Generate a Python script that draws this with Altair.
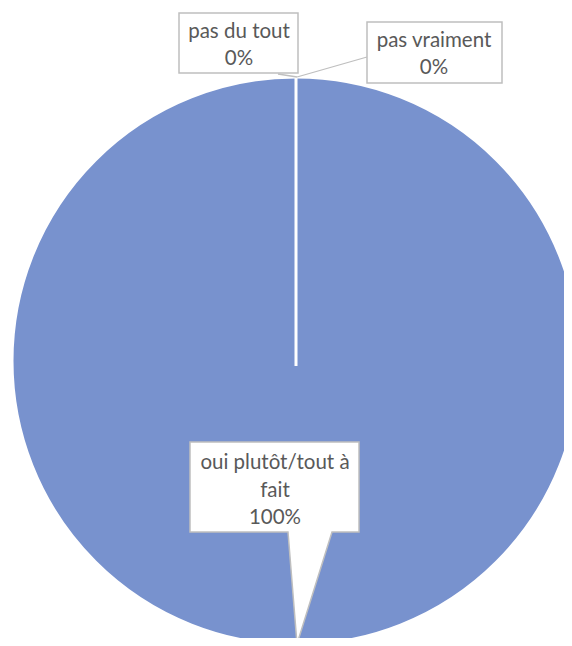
import altair as alt
import pandas as pd

categories = ["pas du tout", "pas vraiment", "oui plutôt/tout à fait"]
values = [0, 0, 100]
label_lines = [["pas du tout"], ["pas vraiment"], ["oui plutôt/tout à", "fait"]]

df = pd.DataFrame({"categorie": categories, "valeur": values, "ordre": list(range(len(categories)))})

W, H = 556, 630
cx, cy, R = 288, 353, 284
BLUE = "#7892CE"
TXT = "#595959"
BORDER = "#BFBFBF"
FONT = "Lato"
FS = 20.5
LH = 27.5

one = pd.DataFrame({"k": [0]})

pie = alt.Chart(df).mark_arc(outerRadius=R, stroke="white", strokeWidth=3).encode(
    theta=alt.Theta("valeur:Q", stack=True),
    order=alt.Order("ordre:Q"),
    color=alt.value(BLUE),
    x=alt.value(cx),
    y=alt.value(cy),
)

# boundary of the zero-size slices (drawn at 12 o'clock)
boundary = alt.Chart(one).mark_rule(color="white", strokeWidth=3).encode(
    x=alt.value(cx), y=alt.value(cy + 5), y2=alt.value(cy - R))

def rule(x1, y1, x2, y2):
    return alt.Chart(one).mark_rule(color=BORDER, strokeWidth=1.3).encode(
        x=alt.value(x1), y=alt.value(y1), x2=alt.value(x2), y2=alt.value(y2))

def box(x1, y1, x2, y2):
    return alt.Chart(one).mark_rect(fill="white", stroke=BORDER, strokeWidth=1.5).encode(
        x=alt.value(x1), y=alt.value(y1), x2=alt.value(x2), y2=alt.value(y2))

callout_path = ("M -0.85 -0.46 L 0.84 -0.46 L 0.84 0.44 L 0.57 0.44 "
                "L 0.22 1.56 L 0.13 0.44 L -0.85 0.44 Z")
callout = alt.Chart(one).mark_point(
    shape=callout_path, size=40000, filled=True, fill="white", fillOpacity=1,
    opacity=1, stroke=BORDER, strokeWidth=1.5,
).encode(x=alt.value(267), y=alt.value(480))

def label(i, x, y):
    lines = label_lines[i] + [f"{values[i]}%"]
    return alt.Chart(one).mark_text(
        align="center", baseline="middle", font=FONT, fontSize=FS,
        lineHeight=LH, color=TXT,
    ).encode(x=alt.value(x), y=alt.value(y), text=alt.value(lines))

chart = alt.layer(
    pie,
    boundary,
    rule(270, 66, 289, 69),
    rule(359, 49, 289, 69),
    box(171, 5, 290, 65),
    box(359, 14, 494, 75),
    callout,
    label(0, 231, 23.5),
    label(1, 426, 32.5),
    label(2, 267, 455),
).properties(
    width=W, height=H, padding=0, autosize="none", background="white"
).configure_view(stroke=None)

chart.save("out.html", embed_options={"renderer": "svg", "actions": False})
